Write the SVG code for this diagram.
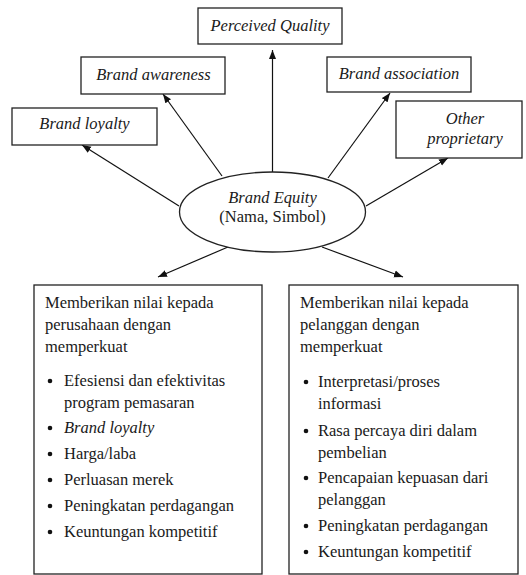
<svg xmlns="http://www.w3.org/2000/svg" width="526" height="575" viewBox="0 0 526 575">
<style>
.box{fill:#fff;stroke:#222;stroke-width:1.3}
text{font-family:'Liberation Serif','Times New Roman','DejaVu Serif',serif;font-size:16.5px;fill:#1a1a1a}
.i{font-style:italic}
.c{text-anchor:middle}
.ln{stroke:#111;stroke-width:1.2;fill:none;marker-end:url(#ah)}
</style>
<defs>
<marker id="ah" markerUnits="userSpaceOnUse" markerWidth="10" markerHeight="8" refX="9" refY="4" orient="auto">
<path d="M0,0.5 L9,4 L0,7.5 z" fill="#111"/>
</marker>
</defs>
<rect width="526" height="575" fill="#fff"/>
<g id="connectors">
<line class="ln" x1="272.5" y1="172" x2="272.5" y2="50"/>
<line class="ln" x1="222" y1="176" x2="163" y2="94"/>
<line class="ln" x1="328" y1="178" x2="390" y2="93"/>
<line class="ln" x1="179" y1="206" x2="82" y2="145"/>
<line class="ln" x1="366" y1="206" x2="448" y2="158"/>
<line class="ln" x1="228" y1="247" x2="158" y2="277"/>
<line class="ln" x1="322" y1="247" x2="403" y2="277"/>
</g>
<g id="perceived-quality" font-family="Liberation Serif, serif">
<rect class="box" x="198" y="8" width="144" height="36"/>
<text class="i c" x="270" y="30.5">Perceived Quality</text>
</g>
<g id="brand-awareness">
<rect class="box" x="81" y="57" width="144" height="37"/>
<text class="i c" x="153.5" y="80">Brand awareness</text>
</g>
<g id="brand-association">
<rect class="box" x="327" y="57" width="144" height="35"/>
<text class="i c" x="399" y="79">Brand association</text>
</g>
<g id="brand-loyalty">
<rect class="box" x="12" y="108" width="145" height="37"/>
<text class="i c" x="84.5" y="129">Brand loyalty</text>
</g>
<g id="other-proprietary">
<rect class="box" x="396" y="101" width="126" height="57"/>
<text class="i c" x="465" y="124">Other</text>
<text class="i c" x="465" y="144">proprietary</text>
</g>
<g id="brand-equity">
<ellipse cx="272.5" cy="212" rx="93" ry="40" fill="#fff" stroke="#222" stroke-width="1.3"/>
<text class="i c" x="272.5" y="203">Brand Equity</text>
<text class="c" x="272.5" y="222">(Nama, Simbol)</text>
</g>
<g id="nilai-perusahaan">
<rect class="box" x="34" y="285" width="228" height="289"/>
<text x="45" y="308">Memberikan nilai kepada</text>
<text x="45" y="330">perusahaan dengan</text>
<text x="45" y="352">memperkuat</text>
<g fill="#111">
<circle cx="50" cy="381" r="2.3"/><circle cx="50" cy="428" r="2.3"/><circle cx="50" cy="454" r="2.3"/><circle cx="50" cy="480" r="2.3"/><circle cx="50" cy="506" r="2.3"/><circle cx="50" cy="532" r="2.3"/>
</g>
<text x="64" y="386">Efesiensi dan efektivitas</text>
<text x="64" y="408">program pemasaran</text>
<text class="i" x="64" y="433">Brand loyalty</text>
<text x="64" y="459">Harga/laba</text>
<text x="64" y="485">Perluasan merek</text>
<text x="64" y="511">Peningkatan perdagangan</text>
<text x="64" y="537">Keuntungan kompetitif</text>
</g>
<g id="nilai-pelanggan">
<rect class="box" x="289" y="285" width="229" height="289"/>
<text x="300" y="308">Memberikan nilai kepada</text>
<text x="300" y="330">pelanggan dengan</text>
<text x="300" y="352">memperkuat</text>
<g fill="#111">
<circle cx="306" cy="382" r="2.3"/><circle cx="306" cy="431" r="2.3"/><circle cx="306" cy="478" r="2.3"/><circle cx="306" cy="526" r="2.3"/><circle cx="306" cy="552" r="2.3"/>
</g>
<text x="318" y="387">Interpretasi/proses</text>
<text x="318" y="409">informasi</text>
<text x="318" y="436">Rasa percaya diri dalam</text>
<text x="318" y="458">pembelian</text>
<text x="318" y="483">Pencapaian kepuasan dari</text>
<text x="318" y="505">pelanggan</text>
<text x="318" y="531">Peningkatan perdagangan</text>
<text x="318" y="557">Keuntungan kompetitif</text>
</g>
</svg>
